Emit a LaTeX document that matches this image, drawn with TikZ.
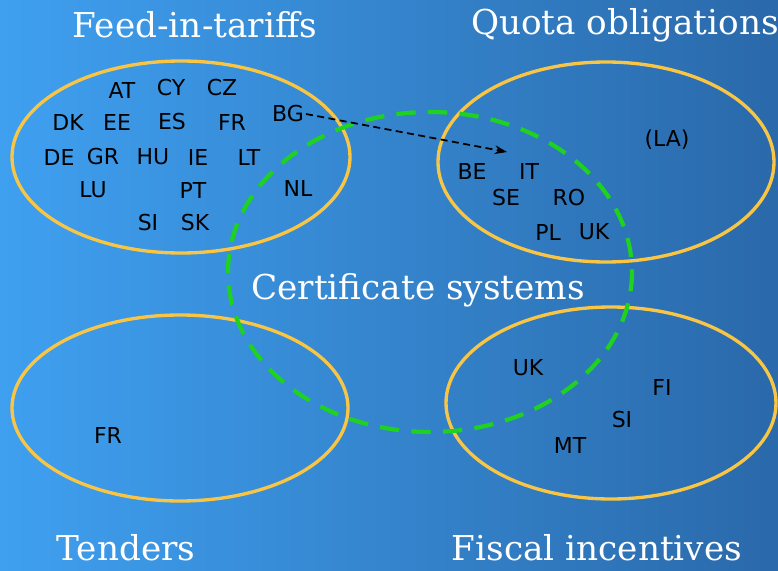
\documentclass[tikz,border=0pt]{standalone}
\usepackage{fontspec}
\newfontfamily\codefont{DejaVu Sans}
\newfontfamily\ttlfont{DejaVu Serif}
\usetikzlibrary{arrows.meta}
\definecolor{bgleft}{HTML}{3FA0F0}
\definecolor{bgright}{HTML}{2A69AA}
\definecolor{ovalc}{HTML}{F8C545}
\definecolor{certc}{HTML}{1FD21F}
\tikzset{
  oval/.style={draw=ovalc, line width=1.9pt},
  cert/.style={draw=certc, line width=2.4pt, dash pattern=on 11pt off 7pt},
  ttl/.style={text=white, font=\ttlfont\fontsize{19.5}{23}\selectfont, inner sep=0pt},
  cc/.style={font=\codefont\fontsize{12.5}{14}\selectfont, inner sep=1pt},
  tarrow/.style={line width=1pt, dash pattern=on 4pt off 2.5pt, -{Stealth[length=7pt,width=5pt]}}
}

\begin{document}
\begin{tikzpicture}[x=0.02cm, y=-0.02cm]
  \useasboundingbox (0,0) rectangle (778,571);
  \shade[left color=bgleft, right color=bgright] (0,0) rectangle (778,571);
  % Ovals
  \draw[oval] (181,157) ellipse [x radius=169, y radius=96];
  \draw[oval] (606,162) ellipse [x radius=168, y radius=100];
  \draw[oval] (180,408) ellipse [x radius=168, y radius=93];
  \draw[oval] (611,403) ellipse [x radius=165, y radius=96];
  \draw[cert] (430,272) ellipse [x radius=202, y radius=160];
  % Titles
  \node[ttl] at (195,25) (fit) {Feed-in-tariffs};
  \node[ttl] at (625,25) (quota) {Quota obligations};
  \node[ttl] at (418,290) (certs) {Certificate systems};
  \node[ttl] at (126,548) (tend) {Tenders};
  \node[ttl] at (597,548) (fisc) {Fiscal incentives};
  % Feed-in-tariffs
  \node[cc] at (122,90) (at) {AT};
  \node[cc] at (171,88) (cy) {CY};
  \node[cc] at (222,88) (cz) {CZ};
  \node[cc] at (68,122) (dk) {DK};
  \node[cc] at (117,122) (ee) {EE};
  \node[cc] at (172,122) (es) {ES};
  \node[cc] at (232,122) (fr) {FR};
  \node[cc] at (288,114) (bg) {BG};
  \node[cc] at (59,157) (de) {DE};
  \node[cc] at (103,157) (gr) {GR};
  \node[cc] at (153,157) (hu) {HU};
  \node[cc] at (198,157) (ie) {IE};
  \node[cc] at (249,157) (lt) {LT};
  \node[cc] at (93,190) (lu) {LU};
  \node[cc] at (193,190) (pt) {PT};
  \node[cc] at (298,188) (nl) {NL};
  \node[cc] at (148,223) (si) {SI};
  \node[cc] at (195,223) (sk) {SK};
  % Quota obligations
  \node[cc] at (667,140) (la) {(LA)};
  \node[cc] at (472,171) (be) {BE};
  \node[cc] at (529,171) (it) {IT};
  \node[cc] at (506,198) (se) {SE};
  \node[cc] at (569,198) (ro) {RO};
  \node[cc] at (548,232) (pl) {PL};
  \node[cc] at (594,232) (uk) {UK};
  \coordinate (qin) at (507,152);
  \draw[tarrow] (bg.east) -- (qin);
  % Tenders
  \node[cc] at (108,435) (frt) {FR};
  % Fiscal incentives
  \node[cc] at (528,368) (ukf) {UK};
  \node[cc] at (662,387) (fi) {FI};
  \node[cc] at (622,420) (sif) {SI};
  \node[cc] at (570,445) (mt) {MT};
\end{tikzpicture}
\end{document}
